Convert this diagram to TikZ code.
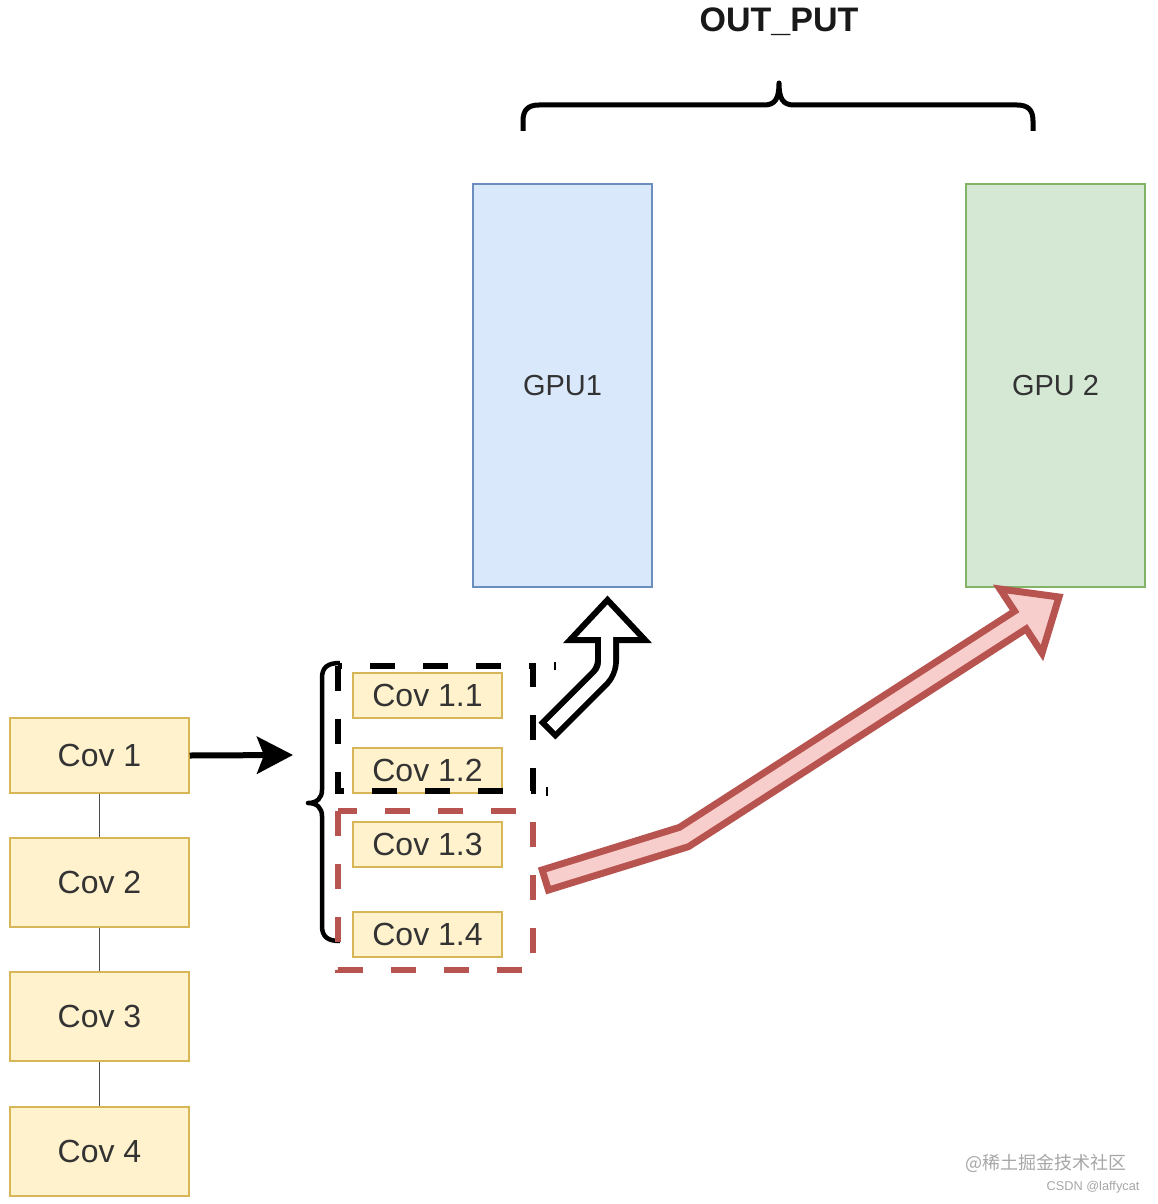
\documentclass[tikz,border=0pt]{standalone}
\usepackage{fontspec}
\setmainfont{Liberation Sans}
\newfontfamily\cjkfont{Noto Sans CJK SC}
\usetikzlibrary{arrows.meta}
\definecolor{yelfill}{HTML}{FFF2CC}
\definecolor{yeldraw}{HTML}{D6B656}
\definecolor{bluefill}{HTML}{DAE8FC}
\definecolor{bluedraw}{HTML}{6C8EBF}
\definecolor{greenfill}{HTML}{D5E8D4}
\definecolor{greendraw}{HTML}{82B366}
\definecolor{reddraw}{HTML}{B85450}
\definecolor{redfill}{HTML}{F8CECC}
\definecolor{txt}{HTML}{333333}
\definecolor{wm}{HTML}{A6A6A6}
\tikzset{
  covbox/.style={draw=yeldraw, fill=yelfill, line width=1.5pt, inner sep=0pt,
    minimum width=179pt, text=txt, font=\fontsize{32}{38}\selectfont},
  subbox/.style={draw=yeldraw, fill=yelfill, line width=1.5pt, inner sep=0pt,
    minimum width=149pt, minimum height=45pt, text=txt, font=\fontsize{32}{38}\selectfont},
  gpubox/.style={line width=1.5pt, inner sep=0pt, minimum width=179pt,
    minimum height=403pt, text=txt, font=\fontsize{29}{34}\selectfont},
  link/.style={draw=black!70, line width=1.5pt},
  brace/.style={draw=black, line width=5pt, line join=round},
  blackdash/.style={draw=black, line width=6pt, dash pattern=on 25pt off 28pt},
  reddash/.style={draw=reddraw, line width=6pt, dash pattern=on 25pt off 28pt},
}
\begin{document}
\begin{tikzpicture}[x=1pt, y=-1pt]
\useasboundingbox (0,0) rectangle (1157,1204);

% title and top brace
\node[font=\fontsize{34}{40}\selectfont\bfseries, text=black!90] (title) at (779,22) {OUT\_PUT};
\draw[brace] (523,131) -- (523,121) .. controls (523,110) and (528,105) .. (539,105)
  -- (764,105) .. controls (775,105) and (779,99) .. (779,83)
  .. controls (779,99) and (783,105) .. (794,105)
  -- (1017,105) .. controls (1028,105) and (1033,110) .. (1033,121) -- (1033,131);

% GPUs
\node[gpubox, draw=bluedraw, fill=bluefill] (gpu1) at (562.5,385.5) {GPU1};
\node[gpubox, draw=greendraw, fill=greenfill] (gpu2) at (1055.5,385.5) {GPU 2};

% left column
\node[covbox, minimum height=75pt] (cov1) at (99.5,755.5) {Cov 1};
\node[covbox, minimum height=89pt] (cov2) at (99.5,882.5) {Cov 2};
\node[covbox, minimum height=89pt] (cov3) at (99.5,1016.5) {Cov 3};
\node[covbox, minimum height=89pt] (cov4) at (99.5,1151.5) {Cov 4};
\draw[link] (cov1) -- (cov2);
\draw[link] (cov2) -- (cov3);
\draw[link] (cov3) -- (cov4);

\coordinate (split) at (293,755);
\draw[line width=6pt, -{Stealth[length=36pt, width=37pt, inset=7pt]}] (cov1.east) -- (split);

% sub boxes
\node[subbox] (c11) at (427.5,695.5) {Cov 1.1};
\node[subbox] (c12) at (427.5,770.5) {Cov 1.2};
\node[subbox] (c13) at (427.5,844.5) {Cov 1.3};
\node[subbox] (c14) at (427.5,934.5) {Cov 1.4};

% left brace
\draw[line width=4.5pt, line join=round] (340,663) .. controls (328,663) and (322,667) .. (322,678)
  -- (322,790) .. controls (322,798) and (317,803) .. (308,803)
  .. controls (317,803) and (322,808) .. (322,816)
  -- (322,926) .. controls (322,937) and (328,941) .. (340,941);

% dashed groups
\draw[reddash] (338,811) rectangle (533,970);
\draw[blackdash] (338,666) rectangle (533,791);
\draw[line width=2pt] (555,662) -- (555,670);
\draw[line width=2pt] (547,787) -- (547,796);

% black hollow arrow to GPU1
\coordinate (bt) at (547,731);
\coordinate (bb) at (607,671);
\coordinate (bh) at (607,640);
\draw[line width=24pt, line join=round, rounded corners=10pt] (bt) -- (bb) -- (bh);
\draw[line width=6pt, fill=white, line join=miter] (570,640) -- (607.5,600) -- (645,640) -- cycle;
\draw[white, line width=12pt, rounded corners=8pt] (551.2,726.8) -- (bb) -- (607,635);

% red hollow arrow to GPU2
\coordinate (rt) at (542,881);
\coordinate (rb) at (684,837);
\coordinate (rh) at (1019,621);
\draw[reddraw, line width=28pt, line join=miter] (rt) -- (rb) -- (rh);
\draw[draw=reddraw, fill=redfill, line width=7pt, line join=miter] (1000,589) -- (1059,597) -- (1042,653) -- cycle;
\draw[redfill, line width=14pt, line join=miter] (548.7,878.9) -- (rb) -- (1025,617);

% watermark
\node[text=wm, font=\cjkfont\fontsize{18}{22}\selectfont] (wm1) at (1046,1163) {@稀土掘金技术社区};
\node[text=wm, font=\fontsize{12.75}{15}\selectfont] (wm2) at (1093,1187) {CSDN @laffycat};
\end{tikzpicture}
\end{document}
